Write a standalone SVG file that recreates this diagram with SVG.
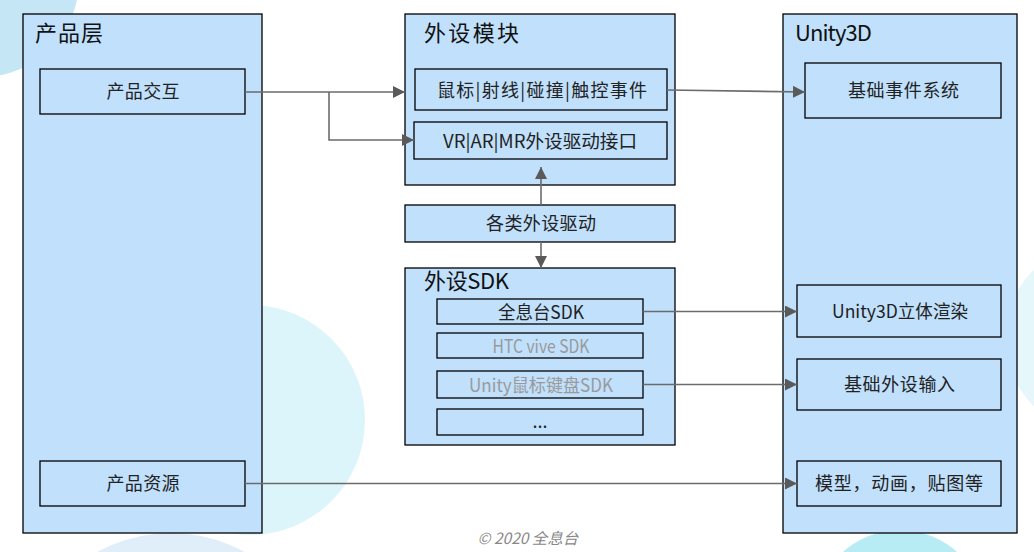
<svg xmlns="http://www.w3.org/2000/svg" width="1034" height="552" viewBox="0 0 1034 552">
<style>
.box{fill:#c0e0fc;stroke:#000;stroke-width:1.3}
.t{font-family:"Noto Sans CJK SC","Liberation Sans",sans-serif;font-size:18px;fill:#222;text-anchor:middle;dominant-baseline:central}
.ti{font-family:"Noto Sans CJK SC","Liberation Sans",sans-serif;font-size:22px;fill:#111}
.g{fill:#9a9a9a}
.c{fill:none;stroke:#6b6b6b;stroke-width:1.6}
</style>
<defs>
<marker id="a" markerWidth="12" markerHeight="12" refX="12" refY="6" orient="auto" markerUnits="userSpaceOnUse">
<path d="M0,0 L12,6 L0,12 Z" fill="#5a5a5a"/>
</marker>
</defs>
<rect width="1034" height="552" fill="#fff"/>
<g id="bg">
<circle cx="-18" cy="-20" r="97" fill="#c4e6f5"/>
<circle cx="250" cy="420" r="115" fill="#dcf5fa"/>
<circle cx="171" cy="686" r="153" fill="#e0eefa"/>
<circle cx="900" cy="615" r="85" fill="#b8ecf5"/>
<circle cx="1100" cy="338" r="95" fill="#e6f7fb"/>
</g>
<g id="layer-product">
<rect class="box" x="23" y="14" width="239" height="519"/>
<text class="ti" x="35" y="41" textLength="68">产品层</text>
</g>
<g id="product-interact">
<rect class="box" x="40" y="69" width="205" height="45"/>
<text class="t" x="143" y="90" textLength="73">产品交互</text>
</g>
<g id="product-resource">
<rect class="box" x="40" y="461" width="205" height="45"/>
<text class="t" x="143" y="482" textLength="73">产品资源</text>
</g>
<g id="module">
<rect class="box" x="405" y="14" width="270" height="171"/>
<text class="ti" x="424" y="41" textLength="95">外设模块</text>
</g>
<g id="events">
<rect class="box" x="415" y="69" width="252" height="41"/>
<text class="t" x="542" y="88.5" textLength="210">鼠标|射线|碰撞|触控事件</text>
</g>
<g id="vr-driver">
<rect class="box" x="414" y="122" width="253" height="37"/>
<text class="t" x="540" y="139.5" textLength="194" lengthAdjust="spacingAndGlyphs">VR|AR|MR外设驱动接口</text>
</g>
<g id="drivers">
<rect class="box" x="405" y="205" width="270" height="37"/>
<text class="t" x="541" y="222" textLength="110">各类外设驱动</text>
</g>
<g id="sdk">
<rect class="box" x="405" y="268" width="270" height="177"/>
<text class="ti" x="424" y="289" textLength="85">外设SDK</text>
</g>
<g id="sdk-holo">
<rect class="box" x="437" y="299" width="206" height="25"/>
<text class="t" x="541" y="310.5" textLength="86" lengthAdjust="spacingAndGlyphs">全息台SDK</text>
</g>
<g id="sdk-htc">
<rect class="box" x="437" y="333" width="206" height="25"/>
<text class="t g" x="541" y="344.5" textLength="97" lengthAdjust="spacingAndGlyphs">HTC vive SDK</text>
</g>
<g id="sdk-unity">
<rect class="box" x="437" y="371" width="206" height="27"/>
<text class="t g" x="541" y="383.5" textLength="144" lengthAdjust="spacingAndGlyphs">Unity鼠标键盘SDK</text>
</g>
<g id="sdk-more">
<rect class="box" x="437" y="409" width="206" height="26"/>
<text class="t" x="540" y="420">...</text>
</g>
<g id="unity">
<rect class="box" x="783" y="14" width="234" height="519"/>
<text class="ti" x="795" y="41" textLength="77">Unity3D</text>
</g>
<g id="unity-events">
<rect class="box" x="805" y="63" width="196" height="55"/>
<text class="t" x="903.5" y="89" textLength="111">基础事件系统</text>
</g>
<g id="unity-render">
<rect class="box" x="797" y="285" width="204" height="52"/>
<text class="t" x="900" y="310" textLength="136" lengthAdjust="spacingAndGlyphs">Unity3D立体渲染</text>
</g>
<g id="unity-input">
<rect class="box" x="797" y="359" width="204" height="51"/>
<text class="t" x="899.5" y="383" textLength="111">基础外设输入</text>
</g>
<g id="unity-assets">
<rect class="box" x="797" y="461" width="204" height="45"/>
<text class="t" x="899" y="482" textLength="168">模型，动画，贴图等</text>
</g>
<g id="connectors">
<path class="c" d="M245,92 H405" marker-end="url(#a)"/>
<path class="c" d="M329,92 V140 H414" marker-end="url(#a)"/>
<path class="c" d="M667,90 L805,92" marker-end="url(#a)"/>
<path class="c" d="M541,205 V167" marker-end="url(#a)"/>
<path class="c" d="M541,242 V268" marker-end="url(#a)"/>
<path class="c" d="M643,311.5 H797" marker-end="url(#a)"/>
<path class="c" d="M643,384.5 H797" marker-end="url(#a)"/>
<path class="c" d="M245,483.5 H797" marker-end="url(#a)"/>
</g>
<text x="528" y="544" text-anchor="middle" font-family="Noto Sans CJK SC, Liberation Sans, sans-serif" font-size="15.5" font-style="italic" fill="#888">© 2020 全息台</text>
</svg>
